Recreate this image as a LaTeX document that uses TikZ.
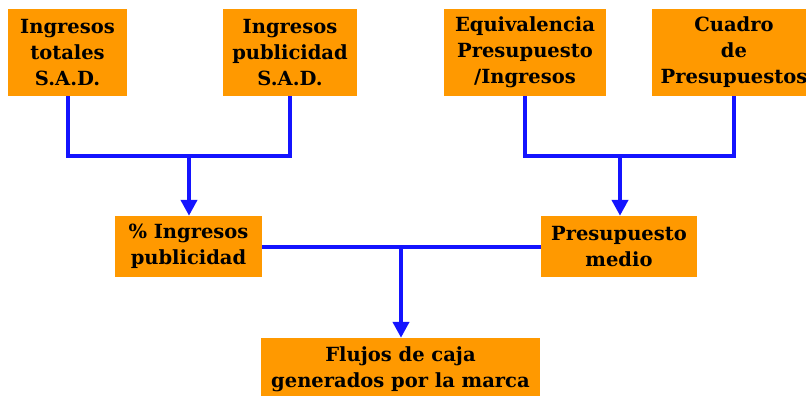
\documentclass[tikz,border=0pt]{standalone}
\usepackage{fontspec}
\setmainfont{DejaVu Serif}
\usetikzlibrary{arrows.meta}
\definecolor{boxorange}{RGB}{255,153,0}
\definecolor{linkblue}{RGB}{20,20,255}
\begin{document}
\begin{tikzpicture}[x=1pt,y=-1pt,
  box/.style={fill=boxorange, draw=none, inner sep=0pt, align=center,
    font=\bfseries\fontsize{19.5}{26}\selectfont, text=black},
  conn/.style={draw=linkblue, line width=4pt},
  arr/.style={conn, -{Triangle[width=16pt,length=16pt]}}]
\useasboundingbox (0,0) rectangle (806,396);
\clip (0,0) rectangle (806,396);
\node[box, minimum width=119pt, minimum height=87pt] (b1) at (67.5,52.5) {Ingresos\\totales\\S.A.D.};
\node[box, minimum width=134pt, minimum height=87pt] (b2) at (290,52.5) {Ingresos\\publicidad\\S.A.D.};
\node[box, minimum width=162pt, minimum height=87pt] (b3) at (525,52.5) {Equivalencia\\Presupuesto\\/Ingresos};
\node[box, minimum width=164pt, minimum height=87pt] (b4) at (734,52.5) {Cuadro\\de\\Presupuestos};
\node[box, minimum width=147pt, minimum height=61pt] (b5) at (188.5,246.5) {\% Ingresos\\publicidad};
\node[box, minimum width=156pt, minimum height=61pt] (b6) at (619,246.5) {Presupuesto\\medio};
\node[box, minimum width=279pt, minimum height=62pt] (b7) at (400.5,369) {Flujos de caja\\generados por la marca};
\coordinate (j1) at (189,155.5);
\coordinate (j2) at (620,155.5);
\coordinate (j3) at (401,246.5);
\draw[conn] (b1.south) |- (j1) -| (b2.south);
\draw[arr] (j1) -- (j1 |- b5.north);
\draw[conn] (b3.south) |- (j2) -| (b4.south);
\draw[arr] (j2) -- (j2 |- b6.north);
\draw[conn] (b5.east) -- (b6.west);
\draw[arr] (j3) -- (j3 |- b7.north);
\end{tikzpicture}
\end{document}
